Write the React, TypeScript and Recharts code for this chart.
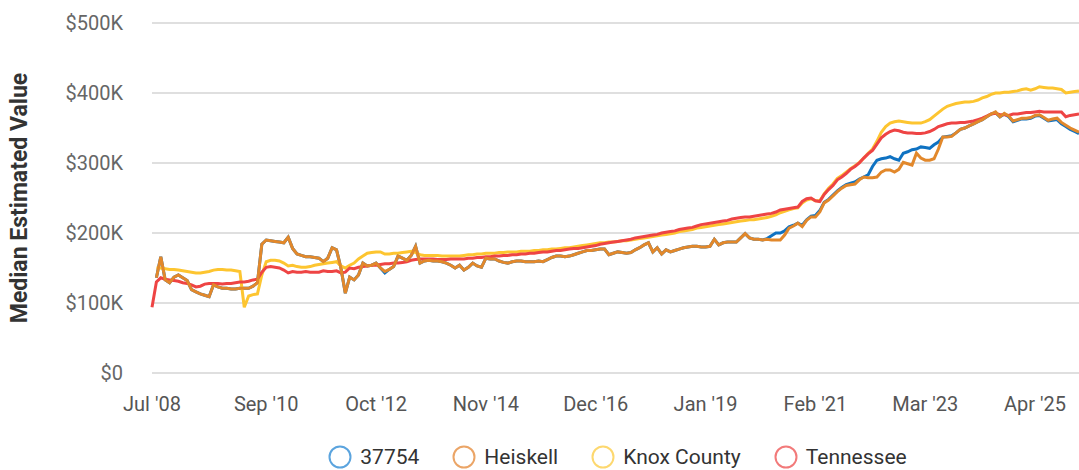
import { LineChart, Line, XAxis, YAxis, CartesianGrid } from 'recharts';

// monthly values in $K, index 0 = Jul 2008
const tennessee = [
  94, 130, 136, 134, 133, 132, 131, 129, 128, 126, 123, 124,
  127, 128, 128, 128, 127, 128, 128, 129, 130, 130, 131, 133,
  134, 144, 151, 152, 151, 150, 147, 143, 145, 144, 144, 145,
  144, 144, 144, 146, 145, 145, 146, 143, 144, 150, 149, 151,
  152, 153, 154, 154, 155, 156, 156, 157, 157, 158, 159, 161,
  162, 163, 163, 163, 163, 162, 162, 162, 163, 163, 163, 163,
  164, 164, 165, 165, 166, 166, 167, 167, 168, 168, 169, 169,
  170, 170, 171, 171, 172, 173, 173, 174, 175, 175, 176, 177,
  178, 178, 179, 180, 181, 182, 184, 185, 186, 187, 188, 189,
  190, 191, 193, 194, 195, 196, 197, 198, 200, 201, 202, 203,
  205, 206, 207, 208, 210, 212, 213, 214, 215, 216, 217, 218,
  220, 221, 222, 223, 223, 224, 225, 226, 227, 228, 230, 233,
  234, 235, 236, 237, 245, 249, 250, 246, 245, 255, 262, 268,
  276, 280, 285, 291, 295, 300, 307, 313, 318, 327, 336, 341,
  345, 347, 346, 344, 343, 343, 342, 342, 343, 345, 348, 352,
  354, 356, 357, 357, 358, 358, 359, 360, 362, 364, 367, 370,
  371, 369, 369, 368, 370, 370, 371, 372, 372, 373, 374, 373,
  373, 373, 373, 373, 366, 368, 369, 370,
];

const knoxCounty = [
  null, 150, 150, 149, 148, 148, 147, 146, 145, 144, 143, 143,
  144, 145, 147, 148, 148, 147, 147, 146, 145, 94, 110, 112,
  113, 140, 159, 161, 161, 160, 157, 153, 154, 152, 151, 151,
  152, 154, 155, 156, 157, 158, 159, 153, 150, 154, 157, 163,
  167, 171, 172, 173, 173, 170, 170, 171, 171, 172, 173, 174,
  172, 169, 168, 168, 168, 168, 167, 167, 167, 167, 167, 168,
  169, 169, 170, 170, 171, 171, 171, 172, 172, 173, 173, 173,
  174, 174, 174, 175, 175, 176, 176, 177, 177, 178, 179, 179,
  180, 181, 182, 183, 184, 185, 186, 186, 187, 187, 188, 189,
  189, 190, 191, 192, 193, 194, 195, 196, 197, 198, 199, 200,
  202, 203, 204, 205, 207, 208, 209, 210, 211, 212, 213, 214,
  215, 216, 217, 218, 219, 219, 220, 221, 222, 224, 226, 229,
  231, 233, 235, 236, 243, 247, 249, 246, 246, 256, 264, 270,
  278, 282, 287, 292, 296, 301, 307, 314, 320, 331, 344, 352,
  357, 359, 360, 359, 358, 357, 357, 357, 359, 362, 367, 372,
  377, 381, 383, 385, 386, 387, 387, 388, 390, 393, 395, 398,
  400, 400, 401, 401, 402, 403, 405, 406, 404, 406, 409, 408,
  407, 407, 406, 405, 400, 401, 402, 403,
];

const heiskell = [
  null, 136, 166, 133, 129, 137, 140, 136, 132, 119, 116, 113,
  111, 109, 126, 123, 121, 121, 120, 120, 121, 121, 121, 124,
  129, 184, 190, 189, 188, 187, 186, 194, 178, 170, 168, 166,
  166, 165, 164, 159, 164, 179, 176, 150, 114, 137, 133, 140,
  157, 153, 154, 157, 150, 145, 148, 152, 167, 164, 161, 168,
  181, 157, 160, 161, 160, 160, 159, 157, 154, 150, 154, 147,
  151, 157, 153, 151, 164, 163, 163, 160, 158, 157, 159, 160,
  160, 159, 159, 159, 160, 159, 162, 165, 167, 167, 166, 167,
  169, 171, 173, 175, 175, 176, 177, 177, 169, 171, 173, 172,
  171, 172, 176, 179, 183, 186, 173, 179, 170, 176, 173, 175,
  177, 179, 180, 181, 181, 180, 180, 181, 191, 183, 186, 187,
  187, 187, 193, 199, 193, 191, 191, 190, 191, 190, 190, 190,
  197, 207, 210, 214, 209, 218, 223, 223, 230, 243, 247, 253,
  259, 264, 268, 269, 270, 276, 280, 279, 279, 280, 287, 290,
  290, 287, 291, 301, 299, 297, 314, 307, 304, 304, 306, 320,
  337, 337, 338, 343, 348, 350, 353, 356, 359, 362, 366, 370,
  373, 366, 371, 367, 360, 362, 364, 364, 365, 368, 369, 365,
  361, 363, 364, 358, 354, 350, 347, 344,
];

const zip37754 = [
  null, 136, 166, 133, 129, 137, 140, 136, 132, 119, 116, 113,
  111, 109, 126, 123, 121, 121, 120, 120, 121, 121, 121, 124,
  129, 184, 190, 189, 188, 187, 186, 194, 178, 170, 168, 166,
  166, 165, 164, 159, 164, 179, 176, 150, 114, 137, 133, 140,
  157, 153, 154, 157, 150, 143, 148, 152, 167, 164, 161, 168,
  181, 157, 160, 161, 160, 160, 159, 157, 154, 150, 154, 147,
  151, 157, 153, 151, 164, 163, 163, 160, 158, 157, 159, 160,
  160, 159, 159, 159, 160, 159, 162, 165, 167, 167, 166, 167,
  169, 171, 173, 175, 175, 176, 177, 177, 169, 171, 173, 172,
  171, 172, 176, 179, 183, 186, 173, 179, 170, 176, 173, 175,
  177, 179, 180, 181, 181, 180, 180, 181, 191, 183, 186, 187,
  187, 187, 193, 199, 193, 191, 191, 190, 192, 196, 200, 200,
  203, 209, 211, 214, 211, 219, 224, 225, 232, 244, 248, 254,
  260, 265, 269, 271, 273, 277, 280, 283, 295, 304, 306, 307,
  309, 306, 304, 314, 316, 319, 320, 323, 322, 321, 326, 330,
  337, 338, 339, 343, 348, 350, 353, 356, 359, 362, 366, 370,
  372, 366, 370, 366, 359, 361, 363, 363, 364, 367, 368, 364,
  360, 361, 362, 356, 352, 348, 345, 342,
];

const tickMonths = [0, 26, 51, 76, 101, 126, 151, 176, 201];
const tickLabels = ["Jul '08", "Sep '10", "Oct '12", "Nov '14", "Dec '16", "Jan '19", "Feb '21", "Mar '23", "Apr '25"];
const yTicks = [0, 100, 200, 300, 400, 500];

const series = [
  { key: 'zip', name: '37754', color: '#0f72c2', legend: '#5ba4de' },
  { key: 'heiskell', name: 'Heiskell', color: '#e2882b', legend: '#eba567' },
  { key: 'knox', name: 'Knox County', color: '#fdc530', legend: '#fdd86f' },
  { key: 'tn', name: 'Tennessee', color: '#ee4444', legend: '#f27a7a' },
];

const data = tennessee.map((tn, i) => ({
  m: i,
  zip: zip37754[i],
  heiskell: heiskell[i],
  knox: knoxCounty[i],
  tn,
}));

const font = 'Roboto, sans-serif';

const App = () => {
  return (
    <div style={{ position: 'absolute', left: 0, top: 0, width: 1079, height: 470, fontFamily: font }}>
      <LineChart width={1079} height={420} data={data} margin={{ top: 23, right: 0, bottom: 0, left: 0 }}>
        <CartesianGrid vertical={false} stroke="#d4d4d4" strokeWidth={1.5} />
        <XAxis
          dataKey="m"
          type="number"
          domain={[0, 211]}
          ticks={tickMonths}
          tickFormatter={(v) => tickLabels[tickMonths.indexOf(v)]}
          axisLine={false}
          tickLine={false}
          tickSize={0}
          tickMargin={24}
          height={47}
          tick={{ fontSize: 20, fill: '#555', fontFamily: font }}
        />
        <YAxis
          domain={[0, 500]}
          ticks={yTicks}
          tickFormatter={(v) => (v === 0 ? '$0' : `$${v}K`)}
          axisLine={false}
          tickLine={false}
          tickSize={0}
          tickMargin={29}
          width={152}
          tick={{ fontSize: 20, fill: '#666', fontFamily: font }}
          label={{
            content: () => (
              <text
                x={19}
                y={198}
                transform="rotate(-90 19 198)"
                textAnchor="middle"
                dominantBaseline="central"
                fontSize={23}
                fontWeight="bold"
                fill="#333"
                fontFamily={font}
              >
                Median Estimated Value
              </text>
            ),
          }}
        />
        {[series[0], series[2], series[3], series[1]].map((s) => (
          <Line
            key={s.key}
            dataKey={s.key}
            name={s.name}
            stroke={s.color}
            strokeWidth={3}
            dot={false}
            type="linear"
            isAnimationActive={false}
          />
        ))}
      </LineChart>
      {/* Legend */}
      <div
        style={{
          position: 'absolute',
          left: 140,
          width: 955,
          top: 445,
          display: 'flex',
          justifyContent: 'center',
          gap: 33,
          fontSize: 21,
          color: '#333',
        }}
      >
        {series.map((s) => (
          <div key={s.key} style={{ display: 'flex', alignItems: 'center', gap: 8 }}>
            <svg width={24} height={24}>
              <circle cx={12} cy={12} r={10.5} fill="none" stroke={s.legend} strokeWidth={2} />
            </svg>
            <span>{s.name}</span>
          </div>
        ))}
      </div>
    </div>
  );
};

export default App;
